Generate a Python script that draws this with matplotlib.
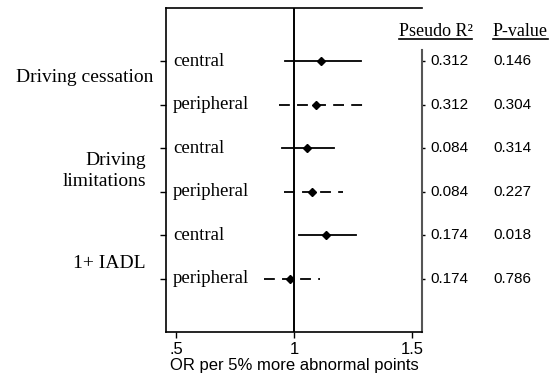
import matplotlib
matplotlib.use("Agg")
import matplotlib.pyplot as plt
from matplotlib.transforms import blended_transform_factory

# rows from top to bottom
row_labels = ["central", "peripheral", "central", "peripheral", "central", "peripheral"]
or_est = [1.113, 1.093, 1.055, 1.075, 1.136, 0.984]
ci_low = [0.962, 0.938, 0.950, 0.958, 1.020, 0.873]
ci_high = [1.284, 1.298, 1.171, 1.206, 1.263, 1.110]
pseudo_r2 = ["0.312", "0.312", "0.084", "0.084", "0.174", "0.174"]
p_values = ["0.146", "0.304", "0.314", "0.227", "0.018", "0.786"]
outcomes = ["Driving cessation", "Driving\nlimitations", "1+ IADL"]
xticks = [0.5, 1.0, 1.5]
xticklabels = [".5", "1", "1.5"]

SERIF = "Liberation Serif"
SANS = "Liberation Sans"
W, H = 555, 375

fig = plt.figure(figsize=(W / 100, H / 100), dpi=100)
ax = fig.add_axes([166 / W, 1 - 332 / H, 256 / W, 324 / H])

rows = list(range(1, len(row_labels) + 1))
for y, lab, est, lo, hi in zip(rows, row_labels, or_est, ci_low, ci_high):
    ls = (0, (6, 4)) if lab == "peripheral" else "-"
    ax.plot([lo, hi], [y, y], color="black", lw=1.3, linestyle=ls)
    ax.plot(est, y, marker="D", ms=4.5, color="black", mec="black")

ax.axvline(1.0, color="black", lw=1.4)
ax.set_xlim(0.458, 1.542)
ax.set_ylim(7.22, -0.22)

ax.set_xticks(xticks)
ax.set_xticklabels(xticklabels, fontfamily=SANS, fontsize=12)
ax.set_yticks(rows)
ax.set_yticklabels([])
ax.tick_params(axis="x", length=4, width=1, pad=3)
ax.tick_params(axis="y", length=4, width=1, left=True, right=True, direction="out")
for t in ax.yaxis.get_major_ticks():
    t.tick2line.set_markersize(2)
    t.tick2line.set_color("#555555")
ax.set_xlabel("OR per 5% more abnormal points", fontfamily=SANS, fontsize=12, labelpad=1)

for side in ["left", "bottom", "top"]:
    ax.spines[side].set_linewidth(1.2)
ax.spines["right"].set_color("#555555")
ax.spines["right"].set_linewidth(1.5)
ax.spines["right"].set_bounds(0.75, 7.22)

# row labels inside the box
tr = blended_transform_factory(ax.transAxes, ax.transData)
for y, lab in zip(rows, row_labels):
    ax.text(0.027, y, lab, transform=tr, ha="left", va="center",
            fontfamily=SERIF, fontsize=13.5)

# statistics columns
tr_fig = blended_transform_factory(fig.transFigure, ax.transData)
for y, r2, p in zip(rows, pseudo_r2, p_values):
    fig.text(449 / W, y, r2, transform=tr_fig, ha="center", va="center",
             fontfamily=SANS, fontsize=11)
    fig.text(512 / W, y, p, transform=tr_fig, ha="center", va="center",
             fontfamily=SANS, fontsize=11)

headers = [
    fig.text(435.5 / W, 1 - 31 / H, "Pseudo R²", ha="center", va="center",
             fontfamily=SERIF, fontsize=13),
    fig.text(520 / W, 1 - 31 / H, "P-value", ha="center", va="center",
             fontfamily=SERIF, fontsize=13),
]

# outcome labels left of the box
fig.text(153 / W, 1 - 78 / H, outcomes[0], ha="right", va="center",
         fontfamily=SERIF, fontsize=14)
fig.text(146 / W, 1 - 171 / H, outcomes[1], ha="right", va="center",
         fontfamily=SERIF, fontsize=14, linespacing=1.35)
fig.text(146 / W, 1 - 264 / H, outcomes[2], ha="right", va="center",
         fontfamily=SERIF, fontsize=14)

# underline the headers
fig.canvas.draw()
renderer = fig.canvas.get_renderer()
for t in headers:
    bb = t.get_window_extent(renderer).transformed(fig.transFigure.inverted())
    fig.add_artist(plt.Line2D([bb.x0, bb.x1], [bb.y0 + 0.002, bb.y0 + 0.002],
                              transform=fig.transFigure, color="black", lw=1.2))

fig.savefig("out.png", dpi=100)
